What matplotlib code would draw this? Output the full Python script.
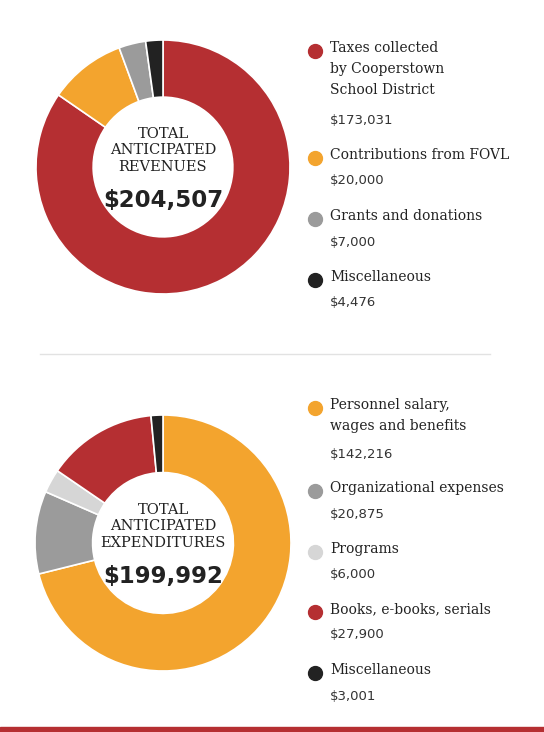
import matplotlib
matplotlib.use("Agg")
import matplotlib.pyplot as plt
from matplotlib.patches import Rectangle
from matplotlib.lines import Line2D

rev_labels = ["Taxes collected\nby Cooperstown\nSchool District", "Contributions from FOVL", "Grants and donations", "Miscellaneous"]
rev_values = [173031, 20000, 7000, 4476]
rev_colors = ["#B52F32", "#F3A42E", "#9B9B9B", "#222222"]

exp_labels = ["Personnel salary,\nwages and benefits", "Organizational expenses", "Programs", "Books, e-books, serials", "Miscellaneous"]
exp_values = [142216, 20875, 6000, 27900, 3001]
exp_colors = ["#F3A42E", "#9B9B9B", "#D6D6D6", "#B52F32", "#222222"]

W, H = 544, 732
fig = plt.figure(figsize=(W/100, H/100), dpi=100)
fig.patch.set_facecolor("white")

def donut(cx, cy, r, values, colors, title, total):
    ax = fig.add_axes([(cx-r)/W, (H-cy-r)/H, 2*r/W, 2*r/H])
    ax.pie(values, colors=colors, startangle=90, counterclock=False, radius=1.0,
           wedgeprops=dict(width=0.45, edgecolor="white", linewidth=1.2))
    ax.set_xlim(-1, 1)
    ax.set_ylim(-1, 1)
    ax.set_aspect("equal")
    ax.axis("off")
    ax.text(0, 0.13, title, ha="center", va="center", family="DejaVu Serif",
            fontsize=10.5, color="#222222", linespacing=1.25)
    ax.text(0, -0.26, total, ha="center", va="center", family="DejaVu Sans",
            fontsize=16.5, fontweight="bold", color="#222222")

donut(163, 167, 127, rev_values, rev_colors, "TOTAL\nANTICIPATED\nREVENUES", "$204,507")
donut(163, 543, 128, exp_values, exp_colors, "TOTAL\nANTICIPATED\nEXPENDITURES", "$199,992")

def legend(labels, values, colors, ys):
    for lab, v, c, y in zip(labels, values, colors, ys):
        fig.add_artist(Line2D([315/W], [1-y/H], marker="o", markersize=10, color=c, linestyle="none"))
        n = lab.count("\n") + 1
        fig.text(330/W, 1-(y-10)/H, lab, ha="left", va="top", family="DejaVu Serif",
                 fontsize=10, color="#222222", linespacing=1.65)
        fig.text(330/W, 1-(y + 23*n)/H, f"${v:,}", ha="left", va="center",
                 family="DejaVu Sans", fontsize=9.5, color="#333333")

legend(rev_labels, rev_values, rev_colors, [51, 158, 219, 280])
legend(exp_labels, exp_values, exp_colors, [408, 491, 552, 612, 673])

fig.add_artist(Line2D([40/W, 490/W], [1-354/H, 1-354/H], color="#E2E2E2", linewidth=1))
fig.add_artist(Rectangle((0, 0), 1, 5/H, color="#B52F32", transform=fig.transFigure))

fig.savefig("out.png", dpi=100)
